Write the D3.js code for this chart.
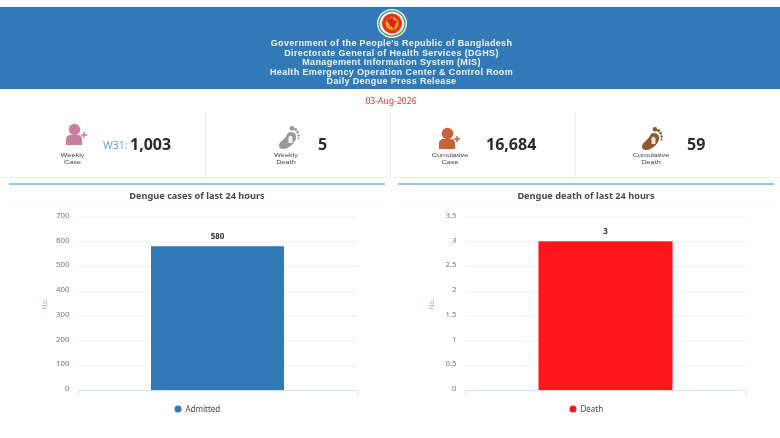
<!DOCTYPE html>
<html><head><meta charset="utf-8">
<script src="https://cdn.jsdelivr.net/npm/d3@7"></script>
<style>html,body{margin:0;padding:0;background:#fff}svg{display:block;font-family:"Noto Sans",sans-serif}</style>
</head><body><svg id="c" width="780" height="438"></svg>
<script>
const headerLines=["Government of the People's Republic of Bangladesh","Directorate General of Health Services (DGHS)","Management Information System (MIS)","Health Emergency Operation Center & Control Room","Daily Dengue Press Release"];
const reportDate="03-Aug-2026";
const weekLabel="W31:";
const statLabels=[["Weekly","Case"],["Weekly","Death"],["Cumulative","Case"],["Cumulative","Death"]];
const statValues=["1,003","5","16,684","59"];
const casesCategories=["Admitted"];
const casesValues=[580];
const casesTicks=[0,100,200,300,400,500,600,700];
const deathCategories=["Death"];
const deathValues=[3];
const deathTicks=[0,0.5,1,1.5,2,2.5,3,3.5];

const svg=d3.select("#c");
const defs=svg.append("defs");
defs.append("filter").attr("id","soft").append("feGaussianBlur").attr("stdDeviation",0.35);
const root=svg.append("g").attr("filter","url(#soft)");

// header
root.append("rect").attr("x",0).attr("y",7).attr("width",780).attr("height",82).attr("fill","#337ab7");
const seal=root.append("g").attr("transform","translate(392,23.5)");
seal.append("ellipse").attr("rx",15).attr("ry",14.5).attr("fill","#eef3ea");
seal.append("ellipse").attr("rx",13).attr("ry",12.5).attr("fill","none").attr("stroke","#5d9a6f").attr("stroke-width",1.4);
seal.append("circle").attr("r",10).attr("fill","#e5301f");
seal.append("circle").attr("r",6.5).attr("fill","#f2a51f");
seal.append("path").attr("d","M-4,-5L1,-6L2,-3L5,-3L4,1L3,0L3,3L1,6L0,3L-2,3L-3,0L-5,-2Z").attr("fill","#d42a1c");
root.append("g").selectAll("text").data(headerLines).join("text")
 .attr("transform",(d,i)=>`translate(391.5,${46+i*9.5}) scale(1.1,1)`).attr("text-anchor","middle")
 .attr("font-family",'"Liberation Sans",sans-serif').attr("font-size",8.2).attr("letter-spacing",0.32).attr("font-weight",700).attr("fill","#eef3f8").text(d=>d);
root.append("text").attr("x",391).attr("y",103.5).attr("text-anchor","middle").attr("font-size",8.6).attr("fill","#d2393a").text(reportDate);

// stat strip
const strip=root.append("g");
strip.selectAll("line.d").data([205.5,390.5,575.5]).join("line").attr("class","d")
 .attr("x1",d=>d).attr("x2",d=>d).attr("y1",112).attr("y2",177).attr("stroke","#ebebeb");
strip.append("line").attr("x1",0).attr("x2",780).attr("y1",177.5).attr("y2",177.5).attr("stroke","#efefef");

function person(g,x,y,s,col,col2){
 const p=g.append("g").attr("transform",`translate(${x},${y}) scale(${s})`);
 p.append("circle").attr("cx",8.5).attr("cy",5.5).attr("r",5.8).attr("fill",col);
 p.append("path").attr("d","M0,21V15.5Q0,11 4.5,11H12Q16,11 16,15.5V21Z").attr("fill",col);
 p.append("path").attr("d","M15,11H21M18,8V14").attr("stroke",col2).attr("stroke-width",1.5);
}
function foot(g,x,y,col,col2){
 const p=g.append("g").attr("transform",`translate(${x},${y})`);
 p.append("path").attr("d","M14,7C18,8 18,14 15,17C12,21 8,23.5 4,23.5C0,23.5 -1,20 1,17C4,14 7,12 8,9C9,6 12,6 14,7Z").attr("fill",col);
 p.selectAll("circle").data([[13,2.8,2.4],[16.6,4,1.5],[18.6,6.8,1.3],[19.6,10,1.2],[19.6,13,1]]).join("circle")
  .attr("cx",d=>d[0]).attr("cy",d=>d[1]).attr("r",d=>d[2]).attr("fill",col);
 p.append("path").attr("d","M9.5,17.5V11.5Q11.5,9 13.5,11.5V17.5Z").attr("fill",col2);
}
person(strip,66,124,1,"#c97ea2","#c97ea2");
foot(strip,279,125.5,"#9a9a9a","#f4f4f4");
person(strip,439,128,1,"#c9623a","#c9623a");
foot(strip,642,126.5,"#8c5a35","#f3e4d2");

const labelX=[72.5,286,450,651];
statLabels.forEach((l,i)=>{
 strip.append("g").selectAll("text").data(l).join("text")
  .attr("transform",(d,j)=>`translate(${labelX[i]},${157+j*7.1}) scale(1.22,1)`).attr("text-anchor","middle")
  .attr("font-family",'"Liberation Sans",sans-serif').attr("font-size",6).attr("fill","#444").text(d=>d);
});
strip.append("text").attr("x",103).attr("y",149).attr("font-size",10.5).attr("fill","#6fa3cc").text(weekLabel);
const valX=[130,318,486,687];
strip.selectAll("text.v").data(statValues).join("text").attr("class","v")
 .attr("x",(d,i)=>valX[i]).attr("y",149.5).attr("font-size",16).attr("font-weight",700).attr("fill","#2b2b33").text(d=>d);

function chart(cfg){
 const g=root.append("g");
 g.append("line").attr("x1",cfg.left).attr("x2",cfg.left+376).attr("y1",184).attr("y2",184).attr("stroke","#7db1cf").attr("stroke-width",1.5);
 g.append("line").attr("x1",cfg.left).attr("x2",cfg.left+376).attr("y1",205).attr("y2",205).attr("stroke","#f7f7f7");
 g.append("text").attr("x",cfg.titleX).attr("y",198.5).attr("text-anchor","middle").attr("font-size",9.2).attr("font-weight",700).attr("fill","#4a4a4a").text(cfg.title);
 const y=d3.scaleLinear().domain([0,d3.max(cfg.ticks)]).range([390,216.5]);
 const x=d3.scaleBand().domain(cfg.cats).range([cfg.x0,cfg.x1]).paddingInner(0).paddingOuter(cfg.pad);
 const gy=g.append("g").attr("transform",`translate(${cfg.x0},0)`)
   .call(d3.axisLeft(y).tickValues(cfg.ticks).tickSize(-(cfg.x1-cfg.x0)).tickPadding(8.5).tickFormat(d=>String(d)));
 gy.select(".domain").remove();
 gy.selectAll(".tick line").attr("stroke","#eef0f2");
 gy.selectAll(".tick text").attr("font-size",7.8).attr("fill","#777").attr("font-family",'"Noto Sans",sans-serif').attr("dy","0.1em");
 const gx=g.append("g").attr("transform","translate(0,390)").call(d3.axisBottom(x).tickValues([]).tickSizeOuter(5));
 gx.select(".domain").attr("stroke","#d4dfec");
 g.append("text").attr("transform",`translate(${cfg.x0-31},${cfg.noY}) rotate(-90)`).attr("text-anchor","middle").attr("font-size",7).attr("fill","#85bbe2").text("No.");
 g.selectAll("rect.bar").data(cfg.vals).join("rect").attr("class","bar")
  .attr("x",(d,i)=>x(cfg.cats[i])).attr("width",x.bandwidth()).attr("y",d=>y(d)).attr("height",d=>390-y(d)).attr("fill",cfg.color);
 g.selectAll("text.dl").data(cfg.vals).join("text").attr("class","dl")
  .attr("x",(d,i)=>x(cfg.cats[i])+x.bandwidth()/2).attr("y",d=>y(d)-7.5).attr("text-anchor","middle")
  .attr("font-size",8).attr("font-weight",700).attr("fill","#333").text(d=>d);
 g.append("circle").attr("cx",cfg.legX).attr("cy",409).attr("r",3.5).attr("fill",cfg.color);
 g.append("text").attr("x",cfg.legX+7.5).attr("y",412).attr("font-size",8).attr("fill","#444").text(cfg.cats[0]);
}
chart({left:9,titleX:197,title:"Dengue cases of last 24 hours",cats:casesCategories,vals:casesValues,ticks:casesTicks,x0:78,x1:357,pad:0.549,color:"#337ab7",legX:178,noY:304});
chart({left:398,titleX:586,title:"Dengue death of last 24 hours",cats:deathCategories,vals:deathValues,ticks:deathTicks,x0:465,x1:746,pad:0.548,color:"#fe161e",legX:573,noY:304});
</script></body></html>
